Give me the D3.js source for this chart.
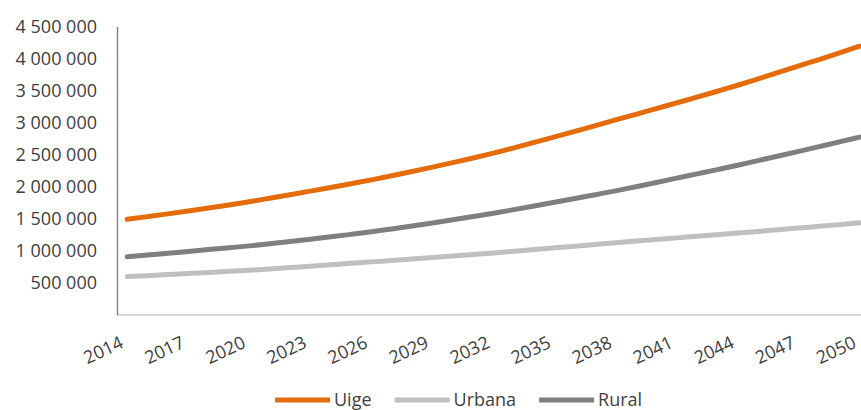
<!DOCTYPE html>
<html>
<head>
<meta charset="utf-8">
<script src="https://cdn.jsdelivr.net/npm/d3@7"></script>
<style>
  body { margin: 0; background: #fff; }
  text { font-family: "Open Sans", sans-serif; fill: #404040; }
</style>
</head>
<body>
<div class="svg_container"></div>
<script>
// years on the category axis
var years = d3.range(2014, 2051);

// tick labels shown on the x axis (every 3 years)
var yearLabels = [2014, 2017, 2020, 2023, 2026, 2029, 2032, 2035, 2038, 2041, 2044, 2047, 2050];

// y tick values
var yTicks = [500000, 1000000, 1500000, 2000000, 2500000, 3000000, 3500000, 4000000, 4500000];

// series values
var uige = [1495000, 1537000, 1580000, 1625000, 1672000, 1720000, 1770000, 1824000, 1879000, 1935000,
  1993000, 2052000, 2112000, 2176000, 2242000, 2310000, 2380000, 2453000, 2530000, 2612000,
  2696000, 2782000, 2869000, 2958000, 3048000, 3136000, 3225000, 3314000, 3403000, 3496000,
  3590000, 3689000, 3790000, 3893000, 3991000, 4094000, 4200000];
var urbana = [600000, 615000, 631000, 647000, 664000, 682000, 700000, 720000, 741000, 762000,
  784000, 807000, 830000, 852000, 875000, 898000, 922000, 946000, 970000, 996000,
  1022000, 1049000, 1076000, 1103000, 1130000, 1155000, 1180000, 1205000, 1230000, 1255000,
  1280000, 1306000, 1332000, 1358000, 1385000, 1412000, 1440000];
var rural = [910000, 937000, 965000, 993000, 1022000, 1051000, 1080000, 1114000, 1149000, 1185000,
  1222000, 1260000, 1300000, 1345000, 1391000, 1438000, 1487000, 1538000, 1590000, 1646000,
  1703000, 1761000, 1820000, 1880000, 1940000, 2005000, 2071000, 2138000, 2205000, 2272000,
  2340000, 2412000, 2484000, 2557000, 2631000, 2705000, 2780000];

var seriesNames = ["Uige", "Urbana", "Rural"];
var seriesColors = ["#E46C0A", "#BFBFBF", "#7F7F7F"];

var series = [
  { name: seriesNames[0], color: seriesColors[0], values: uige },
  { name: seriesNames[1], color: seriesColors[1], values: urbana },
  { name: seriesNames[2], color: seriesColors[2], values: rural }
];

var width = 861, height = 410;
var plot = { left: 117, right: 870, top: 27, bottom: 315 };

var svg = d3.select(".svg_container").append("svg")
  .attr("width", width)
  .attr("height", height);

// scales
var x = d3.scalePoint()
  .domain(years)
  .range([plot.left, plot.right])
  .padding(0.5);
var y = d3.scaleLinear()
  .domain([0, 4500000])
  .range([plot.bottom, plot.top]);

var fmt = function(d) { return d3.format(",")(d).replace(/,/g, " "); };

// y axis labels
var yAxis = svg.append("g")
  .attr("transform", "translate(" + plot.left + ",0)")
  .call(d3.axisLeft(y).tickValues(yTicks).tickFormat(fmt).tickSize(0).tickPadding(20));
yAxis.select(".domain").remove();
yAxis.selectAll("text")
  .style("font-size", "18px")
  .attr("fill", "#404040")
  .attr("font-family", "Open Sans");

// x axis baseline
svg.append("line")
  .attr("x1", plot.left).attr("x2", width)
  .attr("y1", plot.bottom).attr("y2", plot.bottom)
  .attr("stroke", "#D9D9D9")
  .attr("stroke-width", 2);

// y axis line
svg.append("line")
  .attr("x1", plot.left + 0.5).attr("x2", plot.left + 0.5)
  .attr("y1", plot.top).attr("y2", plot.bottom)
  .attr("stroke", "#868686")
  .attr("stroke-width", 1.5);

// x labels, rotated
svg.append("g").selectAll("text")
  .data(yearLabels)
  .enter().append("text")
  .attr("transform", function(d) {
    return "translate(" + (x(d) - 2.5) + "," + 347 + ") rotate(-25)";
  })
  .attr("text-anchor", "end")
  .style("font-size", "18px")
  .text(function(d) { return d; });

// lines
var line = d3.line()
  .x(function(d, i) { return x(years[i]); })
  .y(function(d) { return y(d); })
  .curve(d3.curveMonotoneX);

svg.append("g").selectAll("path")
  .data(series)
  .enter().append("path")
  .attr("d", function(d) { return line(d.values); })
  .attr("fill", "none")
  .attr("stroke", function(d) { return d.color; })
  .attr("stroke-width", 5)
  .attr("stroke-linecap", "round");

// legend
var legend = svg.append("g");
var lx = 275, ly = 400;
series.forEach(function(s) {
  legend.append("line")
    .attr("x1", lx).attr("x2", lx + 55)
    .attr("y1", ly).attr("y2", ly)
    .attr("stroke", s.color)
    .attr("stroke-width", 5);
  var t = legend.append("text")
    .attr("x", lx + 59)
    .attr("y", ly)
    .attr("dy", "0.35em")
    .style("font-size", "18px")
    .text(s.name);
  lx = lx + 59 + t.node().getComputedTextLength() + 23;
});
</script>
</body>
</html>
